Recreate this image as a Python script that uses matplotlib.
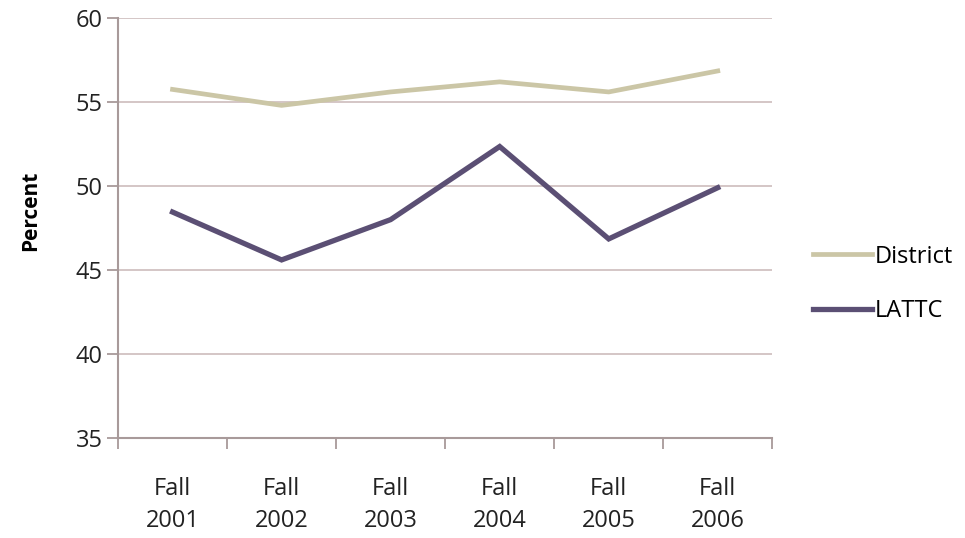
import numpy as np
import matplotlib.pyplot as plt

years = ["Fall\n2001", "Fall\n2002", "Fall\n2003", "Fall\n2004", "Fall\n2005", "Fall\n2006"]
district = [55.75, 54.8, 55.6, 56.2, 55.6, 56.85]
lattc = [48.45, 45.6, 48.0, 52.35, 46.85, 49.9]

plt.rcParams["font.family"] = ["Open Sans", "DejaVu Sans"]

fig = plt.figure(figsize=(9.65, 5.38), dpi=100)
ax = fig.add_axes([0.1223, 0.1859, 0.678, 0.7806])

x = np.arange(len(years))
ax.plot(x, district, color="#cbc6a6", lw=3.4, label="District", solid_joinstyle="round")
ax.plot(x, lattc, color="#5b4f74", lw=3.8, label="LATTC", solid_joinstyle="miter")

ax.set_ylim(35, 60)
ax.set_yticks(np.arange(35, 61, 5))
ax.set_xlim(-0.5, len(years) - 0.5)

# category boundaries carry the tick marks, centres carry the labels
ax.set_xticks(np.arange(-0.5, len(years), 1.0))
ax.set_xticklabels([])
ax.set_xticks(x, minor=True)
ax.set_xticklabels(years, minor=True, linespacing=1.45)
ax.tick_params(axis="x", which="minor", length=0, pad=28, labelsize=17, colors="#222222")
ax.tick_params(axis="x", which="major", length=8, color="#a89a9a", width=1.3)
ax.tick_params(axis="y", length=8, color="#a89a9a", width=1.3, labelsize=17,
               labelcolor="#222222", pad=3)

ax.grid(axis="y", color="#cdbcbc", lw=1.2)
ax.set_axisbelow(True)
for side in ("top", "right"):
    ax.spines[side].set_visible(False)
for side in ("left", "bottom"):
    ax.spines[side].set_color("#a89a9a")
    ax.spines[side].set_linewidth(1.5)

ax.set_ylabel("Percent", fontsize=15, fontweight="bold")
ax.yaxis.set_label_coords(-0.118, 0.54)

ax.legend(loc="center left", bbox_to_anchor=(1.03, 0.367), frameon=False,
          fontsize=17, handlelength=2.5, handletextpad=0.1, labelspacing=1.3)

fig.savefig("out.png", dpi=100, facecolor="white")
